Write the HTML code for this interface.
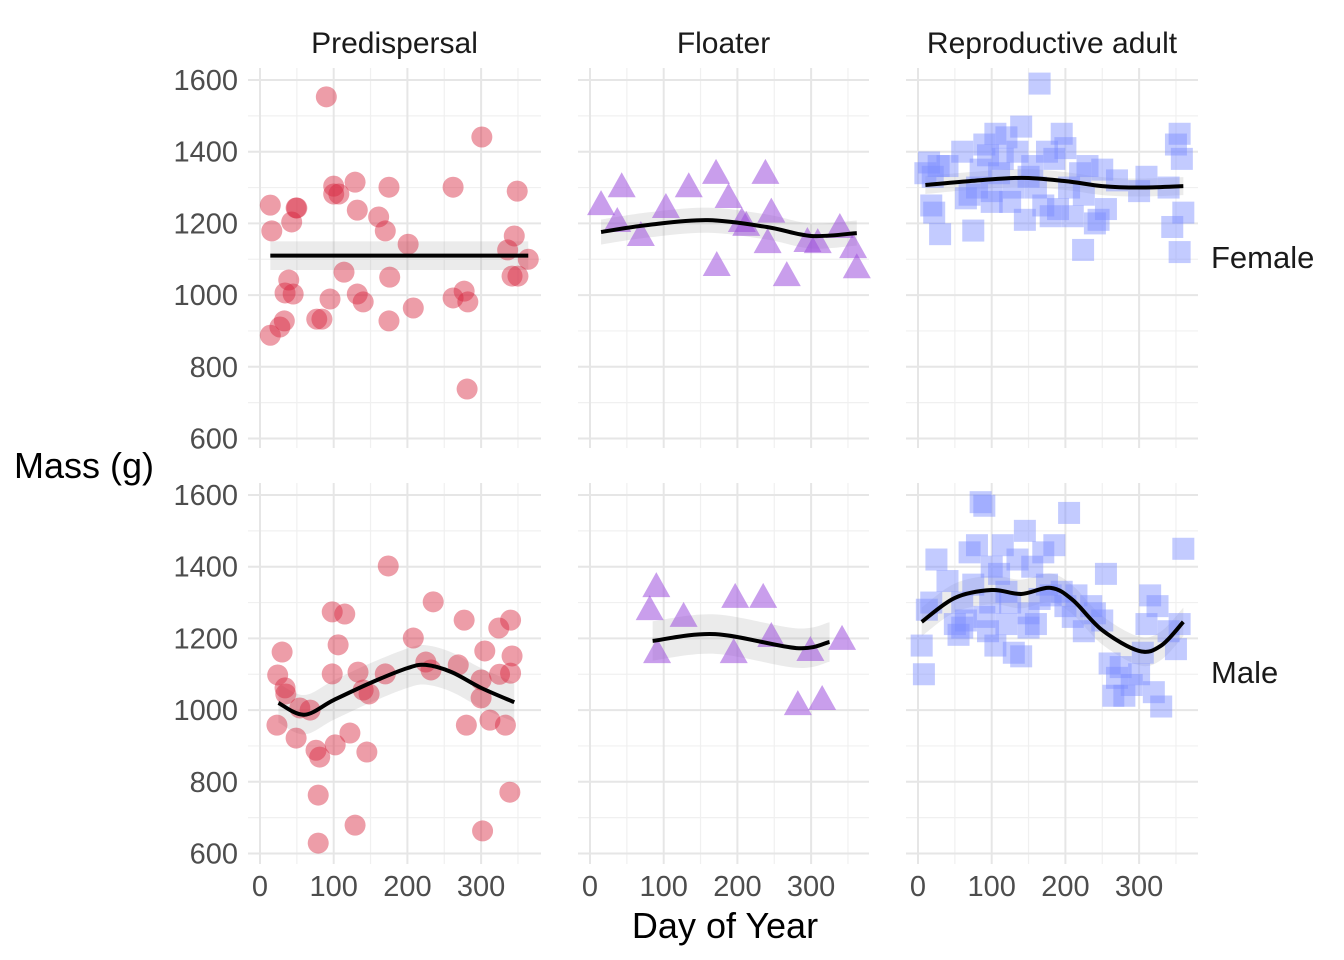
<!DOCTYPE html>
<html><head><meta charset="utf-8"><style>
body{margin:0;background:#fff}
svg{display:block;font-family:"Liberation Sans",sans-serif}
</style></head><body>
<svg id="chart" width="1344" height="960" viewBox="0 0 1344 960"></svg>
<script>
const panelCols=["Predispersal","Floater","Reproductive adult"];
const panelRows=["Female","Male"];
const xTicks=[0,100,200,300];
const yTicks=[600,800,1000,1200,1400,1600];
// Predispersal female
const pfDay=[14,16,43,49,50,14,27,33,39,34,45,90,100,100,107,114,95,77,84,129,132,132,140,161,170,175,176,175,201,208,262,262,277,282,281,301,336,345,349,342,350,364];
const pfMass=[1251,1179,1204,1243,1243,888,911,928,1042,1006,1003,1553,1304,1282,1282,1064,989,933,933,1315,1237,1003,981,1218,1179,1301,1050,928,1142,964,1301,992,1011,981,738,1441,1126,1165,1290,1053,1053,1100];
const pfSmDay=[14,364];
const pfSmMass=[1110,1110];
// Floater female
const ffDay=[15,43,37,69,103,134,171,188,172,206,212,238,246,241,267,295,309,339,357,362];
const ffMass=[1251,1301,1204,1165,1243,1301,1338,1271,1081,1204,1193,1338,1230,1145,1053,1148,1145,1187,1131,1075];
const ffSmDay=[15,80,160,240,300,362];
const ffSmMass=[1176,1196,1209,1190,1165,1173];
// Repro female
const rfDay=[10,15,20,18,22,30,28,60,70,75,80,85,90,95,100,105,110,115,120,125,130,135,140,145,150,155,160,165,170,180,185,195,200,205,210,220,225,230,240,250,255,224,245,270,300,310,340,345,350,355,358,360,355,65,40,100,175,190];
const rfMass=[1340,1370,1330,1250,1230,1170,1360,1400,1280,1180,1300,1350,1420,1390,1290,1450,1340,1380,1440,1260,1300,1400,1470,1210,1330,1360,1300,1590,1250,1220,1380,1450,1410,1300,1220,1340,1280,1360,1200,1350,1240,1126,1210,1320,1290,1330,1300,1190,1420,1450,1380,1230,1120,1270,1360,1260,1400,1240];
const rfSmDay=[10,70,140,200,250,300,360];
const rfSmMass=[1307,1318,1327,1318,1304,1300,1304];
// Predispersal male
const pmDay=[24,30,23,34,35,49,54,68,76,81,79,79,98,106,115,98,102,122,129,133,140,148,145,170,174,208,225,235,232,269,277,280,300,305,300,312,302,324,333,340,342,340,339,325];
const pmMass=[1098,1162,958,1062,1045,922,1006,1000,888,869,763,629,1274,1182,1268,1101,903,936,679,1106,1056,1045,883,1101,1402,1201,1134,1302,1112,1126,1251,958,1084,1165,1034,972,663,1229,958,1251,1151,1103,771,1100];
const pmSmDay=[25,60,100,150,200,225,260,300,345];
const pmSmMass=[1020,987,1028,1076,1117,1126,1106,1062,1022];
// Floater male
const fmDay=[90,81,91,127,197,195,235,246,299,282,315,342];
const fmMass=[1343,1279,1159,1260,1313,1159,1313,1204,1165,1014,1028,1196];
const fmSmDay=[85,170,280,325];
const fmSmMass=[1193,1212,1173,1190];
// Repro male
const rmDay=[5,8,12,18,25,40,50,55,60,65,70,75,80,85,90,95,98,100,105,110,115,120,125,130,135,140,145,150,155,160,165,170,175,180,185,195,200,205,210,215,225,235,240,250,255,260,265,270,275,280,290,300,305,310,315,320,325,330,340,350,355,360,90,120,60,150];
const rmMass=[1180,1100,1280,1300,1420,1360,1240,1210,1300,1250,1440,1350,1460,1580,1570,1220,1300,1400,1180,1380,1460,1330,1300,1160,1420,1150,1500,1270,1400,1240,1310,1440,1350,1320,1460,1330,1290,1550,1260,1320,1220,1290,1270,1250,1380,1130,1040,1090,1120,1040,1070,1100,1160,1240,1320,1050,1290,1010,1220,1170,1240,1450,1260,1240,1230,1230];
const rmSmDay=[5,50,100,140,180,210,250,300,330,360];
const rmSmMass=[1246,1313,1335,1324,1341,1307,1223,1165,1180,1246];

const NS="http://www.w3.org/2000/svg";
const svg=document.getElementById('chart');
function mk(tag,attrs,parent){const e=document.createElementNS(NS,tag);for(const k in attrs)e.setAttribute(k,attrs[k]);(parent||svg).appendChild(e);return e;}
const colX0=[260,590,918], colL=[248,578,906], colR=[541,869,1198];
const rowTop=[68,483], rowBot=[448,864], row1600=[80,495];
const kx=0.737, ky=0.3585;
function sx(c,d){return colX0[c]+d*kx;}
function sy(r,m){return row1600[r]+(1600-m)*ky;}

for(let r=0;r<2;r++)for(let c=0;c<3;c++){
  const g=mk('g',{});
  
  
  for(let m=700;m<=1500;m+=200){mk('line',{x1:colL[c],x2:colR[c],y1:sy(r,m),y2:sy(r,m),stroke:'#f0f0f0','stroke-width':1.2},g);}
  for(let d=50;d<=350;d+=100){mk('line',{x1:sx(c,d),x2:sx(c,d),y1:rowTop[r],y2:rowBot[r],stroke:'#f0f0f0','stroke-width':1.2},g);}
  yTicks.forEach(m=>mk('line',{x1:colL[c],x2:colR[c],y1:sy(r,m),y2:sy(r,m),stroke:'#e6e6e6','stroke-width':2},g));
  xTicks.forEach(d=>mk('line',{x1:sx(c,d),x2:sx(c,d),y1:rowTop[r],y2:rowBot[r],stroke:'#e6e6e6','stroke-width':2},g));
}
for(let r=0;r<2;r++)yTicks.forEach(m=>{const t=mk('text',{x:238,y:sy(r,m)+10,'text-anchor':'end','font-size':29,fill:'#4d4d4d'});t.textContent=m;
  });
for(let c=0;c<3;c++)xTicks.forEach(d=>{const t=mk('text',{x:sx(c,d),y:896,'text-anchor':'middle','font-size':29,fill:'#4d4d4d'});t.textContent=d;
  });
for(let c=0;c<3;c++){const t=mk('text',{x:(colL[c]+colR[c])/2,y:53,'text-anchor':'middle','font-size':30,fill:'#1a1a1a'});t.textContent=panelCols[c];
  }
for(let r=0;r<2;r++){const t=mk('text',{x:1211,y:r?683:268,'font-size':31,fill:'#1a1a1a'});t.textContent=panelRows[r];
  }
let t=mk('text',{x:725,y:938,'text-anchor':'middle','font-size':36,fill:'#000'});t.textContent='Day of Year';

t=mk('text',{x:14,y:478,'font-size':36,fill:'#000'});t.textContent='Mass (g)';


function cr(p){ // catmull-rom path
  if(p.length<3)return 'M'+p.map(q=>q.join(',')).join(' L');
  let s='M'+p[0].join(',');
  for(let i=0;i<p.length-1;i++){
    const p0=p[Math.max(0,i-1)],p1=p[i],p2=p[i+1],p3=p[Math.min(p.length-1,i+2)];
    const c1=[p1[0]+(p2[0]-p0[0])/6,p1[1]+(p2[1]-p0[1])/6];
    const c2=[p2[0]-(p3[0]-p1[0])/6,p2[1]-(p3[1]-p1[1])/6];
    s+=` C${c1.join(',')} ${c2.join(',')} ${p2.join(',')}`;
  }
  return s;
}
function smooth(r,c,days,mass,band){
  const up=days.map((d,i)=>[sx(c,d),sy(r,mass[i]+band)]);
  const lo=days.map((d,i)=>[sx(c,d),sy(r,mass[i]-band)]).reverse();
  const loPath=cr(lo).replace(/^M/,' L');
  const poly=mk('path',{d:cr(up)+loPath+' Z',fill:'#999',opacity:0.2});
  
  return ()=>{
    const l=mk('path',{d:cr(days.map((d,i)=>[sx(c,d),sy(r,mass[i])])),fill:'none',stroke:'#000','stroke-width':4,'stroke-linejoin':'round'});
    
  };
}
function pts(r,c,days,mass,shape){
  days.forEach((d,i)=>{
    const x=sx(c,d),y=sy(r,mass[i]);let e;
    if(shape==='circle')e=mk('circle',{cx:x,cy:y,r:10.5,fill:'#d7263d','fill-opacity':0.45});
    else if(shape==='tri')e=mk('polygon',{points:`${x},${y-15} ${x-14},${y+10} ${x+14},${y+10}`,fill:'#9d4edd','fill-opacity':0.55});
    else e=mk('rect',{x:x-11,y:y-11,width:22,height:22,fill:'#7b8cff','fill-opacity':0.45});
    
    
  });
}
const sets=[
 [0,0,pfDay,pfMass,pfSmDay,pfSmMass,'circle',40],
 [0,1,ffDay,ffMass,ffSmDay,ffSmMass,'tri',35],
 [0,2,rfDay,rfMass,rfSmDay,rfSmMass,'sq',25],
 [1,0,pmDay,pmMass,pmSmDay,pmSmMass,'circle',55],
 [1,1,fmDay,fmMass,fmSmDay,fmSmMass,'tri',55],
 [1,2,rmDay,rmMass,rmSmDay,rmSmMass,'sq',40]];
sets.forEach(s=>{const line=smooth(s[0],s[1],s[4],s[5],s[7]);pts(s[0],s[1],s[2],s[3],s[6]);line();});
</script>
</body></html>
